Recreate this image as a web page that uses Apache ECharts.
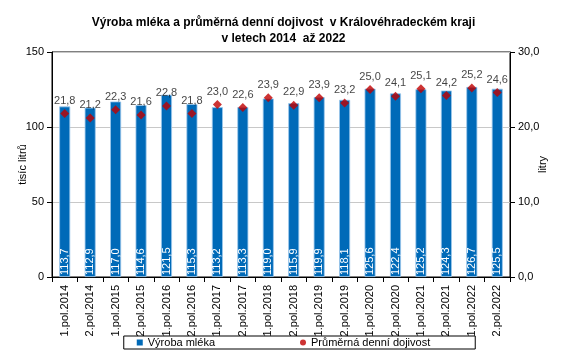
<!DOCTYPE html>
<html><head><meta charset="utf-8">
<script src="https://cdn.jsdelivr.net/npm/echarts@6/dist/echarts.min.js"></script>
<style>html,body{margin:0;padding:0;background:#fff}#c{width:567px;height:363px}</style>
</head><body><div id="c"></div>
<script>
const categories = ["1.pol.2014","2.pol.2014","1.pol.2015","2.pol.2015","1.pol.2016","2.pol.2016","1.pol.2017","2.pol.2017","1.pol.2018","2.pol.2018","1.pol.2019","2.pol.2019","1.pol.2020","2.pol.2020","1.pol.2021","2.pol.2021","1.pol.2022","2.pol.2022"];
const production = [113.7,112.9,117.0,114.6,121.5,115.3,113.2,113.3,119.0,115.9,119.9,118.1,125.6,122.4,125.2,124.3,126.7,125.5];
const dailyYield = [21.8,21.2,22.3,21.6,22.8,21.8,23.0,22.6,23.9,22.9,23.9,23.2,25.0,24.1,25.1,24.2,25.2,24.6];
const leftTicks = {min:0,max:150,interval:50};
const rightTicks = {min:0,max:30,interval:10};

const F = '"Liberation Sans", Arial, sans-serif';
const fmt = v => v.toFixed(1).replace('.', ',');
const chart = echarts.init(document.getElementById('c'), null, {renderer:'canvas'});
chart.setOption({
  animation:false,
  textStyle:{fontFamily:F},
  title:{
    text:'Výroba mléka a průměrná denní dojivost  v Královéhradeckém kraji\nv letech 2014  až 2022',
    left:'center', top:10,
    textStyle:{fontFamily:F,fontSize:12,fontWeight:'bold',color:'#000',lineHeight:16}
  },
  grid:{left:52,right:57,top:52,bottom:86,containLabel:false,outerBoundsMode:'none',
    show:true,borderColor:'#000',borderWidth:1},
  legend:{
    left:'center', top:336,
    borderColor:'#000', borderWidth:1, padding:[1,45,1,13],
    itemGap:85, itemWidth:6, itemHeight:6,
    itemStyle:{borderWidth:0},
    textStyle:{fontFamily:F,fontSize:11,color:'#000'},
    data:[{name:'Výroba mléka',icon:'rect'},{name:'Průměrná denní dojivost',icon:'circle'}]
  },
  xAxis:{
    type:'category', data:categories, boundaryGap:true,
    axisLine:{lineStyle:{color:'#000'}},
    axisTick:{show:true,alignWithLabel:false,length:5,lineStyle:{color:'#000'}},
    axisLabel:{rotate:90,fontFamily:F,fontSize:11,color:'#000',margin:8,interval:0}
  },
  yAxis:[{
    type:'value', min:leftTicks.min, max:leftTicks.max, interval:leftTicks.interval,
    name:'tisíc litrů', nameLocation:'middle', nameGap:24, nameRotate:90, nameMoveOverlap:false,
    nameTextStyle:{fontFamily:F,fontSize:11,color:'#000'},
    axisLine:{show:true,lineStyle:{color:'#000'}},
    axisTick:{show:true,length:5,lineStyle:{color:'#000'}},
    axisLabel:{fontFamily:F,fontSize:11,color:'#000',margin:8},
    splitLine:{show:true,lineStyle:{color:'#c8c8c8'}}
  },{
    type:'value', min:rightTicks.min, max:rightTicks.max, interval:rightTicks.interval,
    name:'litry', nameLocation:'middle', nameGap:27, nameRotate:90, nameMoveOverlap:false,
    nameTextStyle:{fontFamily:F,fontSize:11,color:'#000'},
    axisLine:{show:true,lineStyle:{color:'#000'}},
    axisTick:{show:true,length:5,lineStyle:{color:'#000'}},
    axisLabel:{fontFamily:F,fontSize:11,color:'#000',margin:8,formatter:v=>fmt(v)},
    splitLine:{show:false}
  }],
  series:[{
    name:'Výroba mléka', type:'bar', data:production, barWidth:11,
    itemStyle:{color:'#006AB8',borderColor:'#9CC8EC',borderWidth:0.8},
    label:{show:true,position:'insideBottom',rotate:90,align:'left',verticalAlign:'middle',distance:2,
      color:'#fff',fontFamily:F,fontSize:11,formatter:p=>fmt(p.value)}
  },{
    name:'Průměrná denní dojivost', type:'scatter', yAxisIndex:1, data:dailyYield,
    symbol:'diamond', symbolSize:9, itemStyle:{color:'#C00000'},
    label:{show:true,position:'top',distance:3,color:'#111',fontFamily:F,fontSize:11,formatter:p=>fmt(p.value)}
  }]
});
</script></body></html>
